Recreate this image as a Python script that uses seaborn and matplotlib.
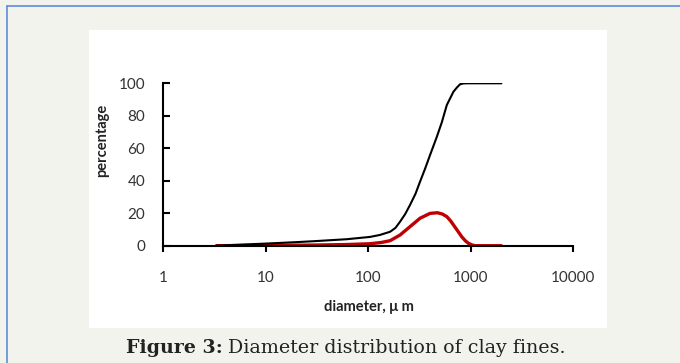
import matplotlib
matplotlib.use("Agg")
import matplotlib.pyplot as plt
import seaborn as sns
import pandas as pd
from matplotlib.patches import Rectangle
from matplotlib.lines import Line2D

# ---- data ----
cum_d = [3.3, 5, 10, 20, 30, 62, 104, 130, 164, 185, 205, 230, 256, 290, 321,
         360, 402, 468, 524, 586, 680, 740, 789, 850, 918, 1000, 2000]
cum_pct = [0, 0.5, 1.3, 2.2, 2.8, 4.0, 5.4, 6.6, 8.6, 11, 14.8, 19.5, 25, 32,
           39.4, 47.5, 55.8, 67, 76, 86.6, 94.8, 97.6, 99.4, 99.9, 100, 100, 100]

dist_d = [3.3, 10, 30, 60, 104, 135, 164, 205, 256, 321, 402, 475, 530, 586,
          640, 700, 760, 820, 890, 953, 1030, 1107, 2000]
dist_pct = [0, 0.2, 0.4, 0.7, 1.2, 2.0, 3.1, 6.6, 11.7, 16.9, 19.9, 20.3, 19.5,
            17.9, 15.2, 11.7, 8.5, 5.5, 3.0, 1.5, 0.5, 0, 0]

x_ticks = [1, 10, 100, 1000, 10000]
x_tick_labels = ["1", "10", "100", "1000", "10000"]
y_ticks = [0, 20, 40, 60, 80, 100]

cum_df = pd.DataFrame({"d": cum_d, "pct": cum_pct})
dist_df = pd.DataFrame({"d": dist_d, "pct": dist_pct})

sns.set_style("white")
plt.rcParams["font.family"] = ["Lato", "DejaVu Sans"]

W, H = 680, 363
fig = plt.figure(figsize=(W / 100, H / 100), dpi=100)
fig.patch.set_facecolor("#f3f3ee")

# white panel
fig.patches.append(Rectangle((89 / W, 1 - 328 / H), (607 - 89) / W, (328 - 30) / H,
                             transform=fig.transFigure, facecolor="white",
                             edgecolor="none", zorder=-5))
# blue border lines (top and left)
fig.lines.append(Line2D([7 / W, 1], [1 - 6 / H, 1 - 6 / H], transform=fig.transFigure,
                        color="#5b8fd9", lw=1.2, zorder=-4))
fig.lines.append(Line2D([7 / W, 7 / W], [0, 1 - 6 / H], transform=fig.transFigure,
                        color="#5b8fd9", lw=1.2, zorder=-4))

ax = fig.add_axes([163.3 / W, 1 - 245.7 / H, (573 - 163.3) / W, (245.7 - 83.3) / H])
ax.set_zorder(2)
ax.set_facecolor("none")

sns.lineplot(data=dist_df, x="d", y="pct", ax=ax, color="#c00000", lw=2.4)
sns.lineplot(data=cum_df, x="d", y="pct", ax=ax, color="black", lw=1.5)

ax.set_xscale("log")
ax.set_xlim(1, 10000)
ax.set_ylim(0, 100)
ax.set_xticks(x_ticks)
ax.set_xticklabels(x_tick_labels)
ax.xaxis.set_minor_locator(matplotlib.ticker.NullLocator())
ax.set_yticks(y_ticks)
ax.set_xlabel("")
ax.set_ylabel("")

for s in ["top", "right"]:
    ax.spines[s].set_visible(False)
for s in ["left", "bottom"]:
    ax.spines[s].set_color("black")
    ax.spines[s].set_linewidth(1.5)

ax.tick_params(axis="y", left=True, direction="in", length=5, width=1.5,
               color="black", pad=13, labelsize=11, labelcolor="#333333")
ax.tick_params(axis="x", bottom=True, direction="out", length=4.5, width=1.5,
               color="black", pad=14, labelsize=11, labelcolor="#333333")
ax.grid(False)

fig.text(102 / W, 1 - 140 / H, "percentage", rotation=90, ha="center", va="center",
         fontsize=10.5, fontweight="bold", color="#222222")
fig.text(369 / W, 1 - 307 / H, "diameter, \u03bc m", ha="center", va="center",
         fontsize=10.5, fontweight="bold", color="#222222")

fig.text(126 / W, 1 - 348 / H, "Figure 3:", ha="left", va="center",
         fontsize=13.7, fontweight="bold", color="#222222", family="DejaVu Serif")
fig.text(228 / W, 1 - 348 / H, "Diameter distribution of clay fines.", ha="left",
         va="center", fontsize=13.7, color="#222222", family="DejaVu Serif")

fig.savefig("out.png", dpi=100, facecolor=fig.get_facecolor())
